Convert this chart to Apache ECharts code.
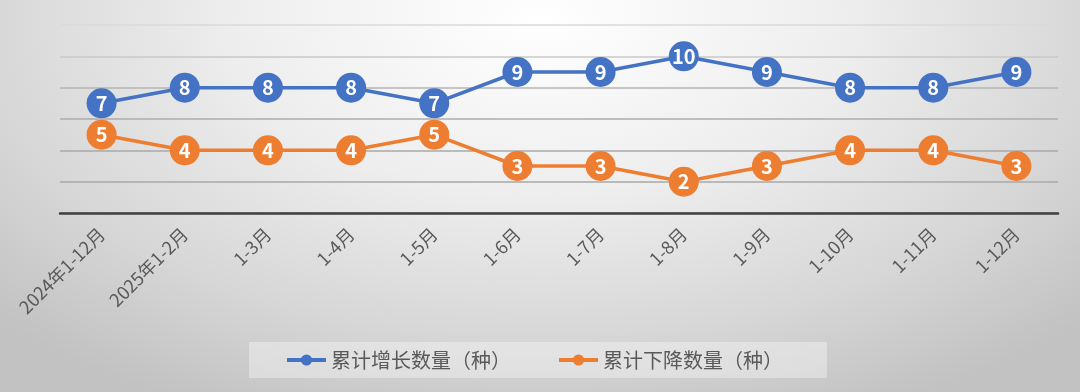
<!DOCTYPE html>
<html><head><meta charset="utf-8">
<script src="https://cdn.jsdelivr.net/npm/echarts@6/dist/echarts.min.js"></script>
<style>
html,body{margin:0;padding:0;}
body{width:1080px;height:392px;overflow:hidden;
background:radial-gradient(ellipse 70% 110% at 50% 5%, #ffffff 0%, #eeeeee 40%, #d6d6d6 75%, #c2c2c2 100%);}
#c{width:1080px;height:392px;}
</style></head>
<body><div id="c"></div>
<script>
const categories = ['2024年1-12月','2025年1-2月','1-3月','1-4月','1-5月','1-6月','1-7月','1-8月','1-9月','1-10月','1-11月','1-12月'];
const increaseName = '累计增长数量（种）';
const decreaseName = '累计下降数量（种）';
const increaseValues = [7,8,8,8,7,9,9,10,9,8,8,9];
const decreaseValues = [5,4,4,4,5,3,3,2,3,4,4,3];

const chart = echarts.init(document.getElementById('c'), null, {renderer:'canvas'});
const font = '"Noto Sans CJK SC", "Noto Sans", sans-serif';
function lineSeries(name, data, color){
  return {
    name, type:'line', data,
    symbol:'circle', symbolSize:30,
    itemStyle:{color},
    lineStyle:{color, width:3.5},
    label:{show:true, position:'inside', color:'#fff', fontWeight:'bold', fontSize:20, fontFamily:font},
    emphasis:{disabled:true},
    animation:false
  };
}
chart.setOption({
  backgroundColor:'transparent',
  textStyle:{fontFamily:font},
  grid:{left:60, right:22, top:25, bottom:179, containLabel:false},
  legend:{
    left:249, top:342,
    padding:[8,44,8,36],
    backgroundColor:'rgba(255,255,255,0.35)',
    itemWidth:39, itemHeight:14, itemGap:46,
    lineStyle:{width:4},
    textStyle:{color:'#595959', fontSize:20, fontFamily:font},
    data:[increaseName, decreaseName]
  },
  xAxis:{
    type:'category', data:categories, boundaryGap:true,
    axisLine:{lineStyle:{color:'#404040', width:2.5}},
    axisTick:{show:false},
    axisLabel:{rotate:45, color:'#595959', fontSize:18, margin:18, interval:0, fontFamily:font}
  },
  yAxis:{
    type:'value', min:0, max:12, interval:2,
    axisLine:{show:false}, axisTick:{show:false}, axisLabel:{show:false},
    splitLine:{lineStyle:{color:['#a8a8a8','#a8a8a8','#a8a8a8','#adadad','#b5b5b5','#c8c8c8','#dadada'], width:1.5}}
  },
  series:[
    lineSeries(increaseName, increaseValues, '#4472C4'),
    lineSeries(decreaseName, decreaseValues, '#ED7D31')
  ]
});
</script></body></html>
